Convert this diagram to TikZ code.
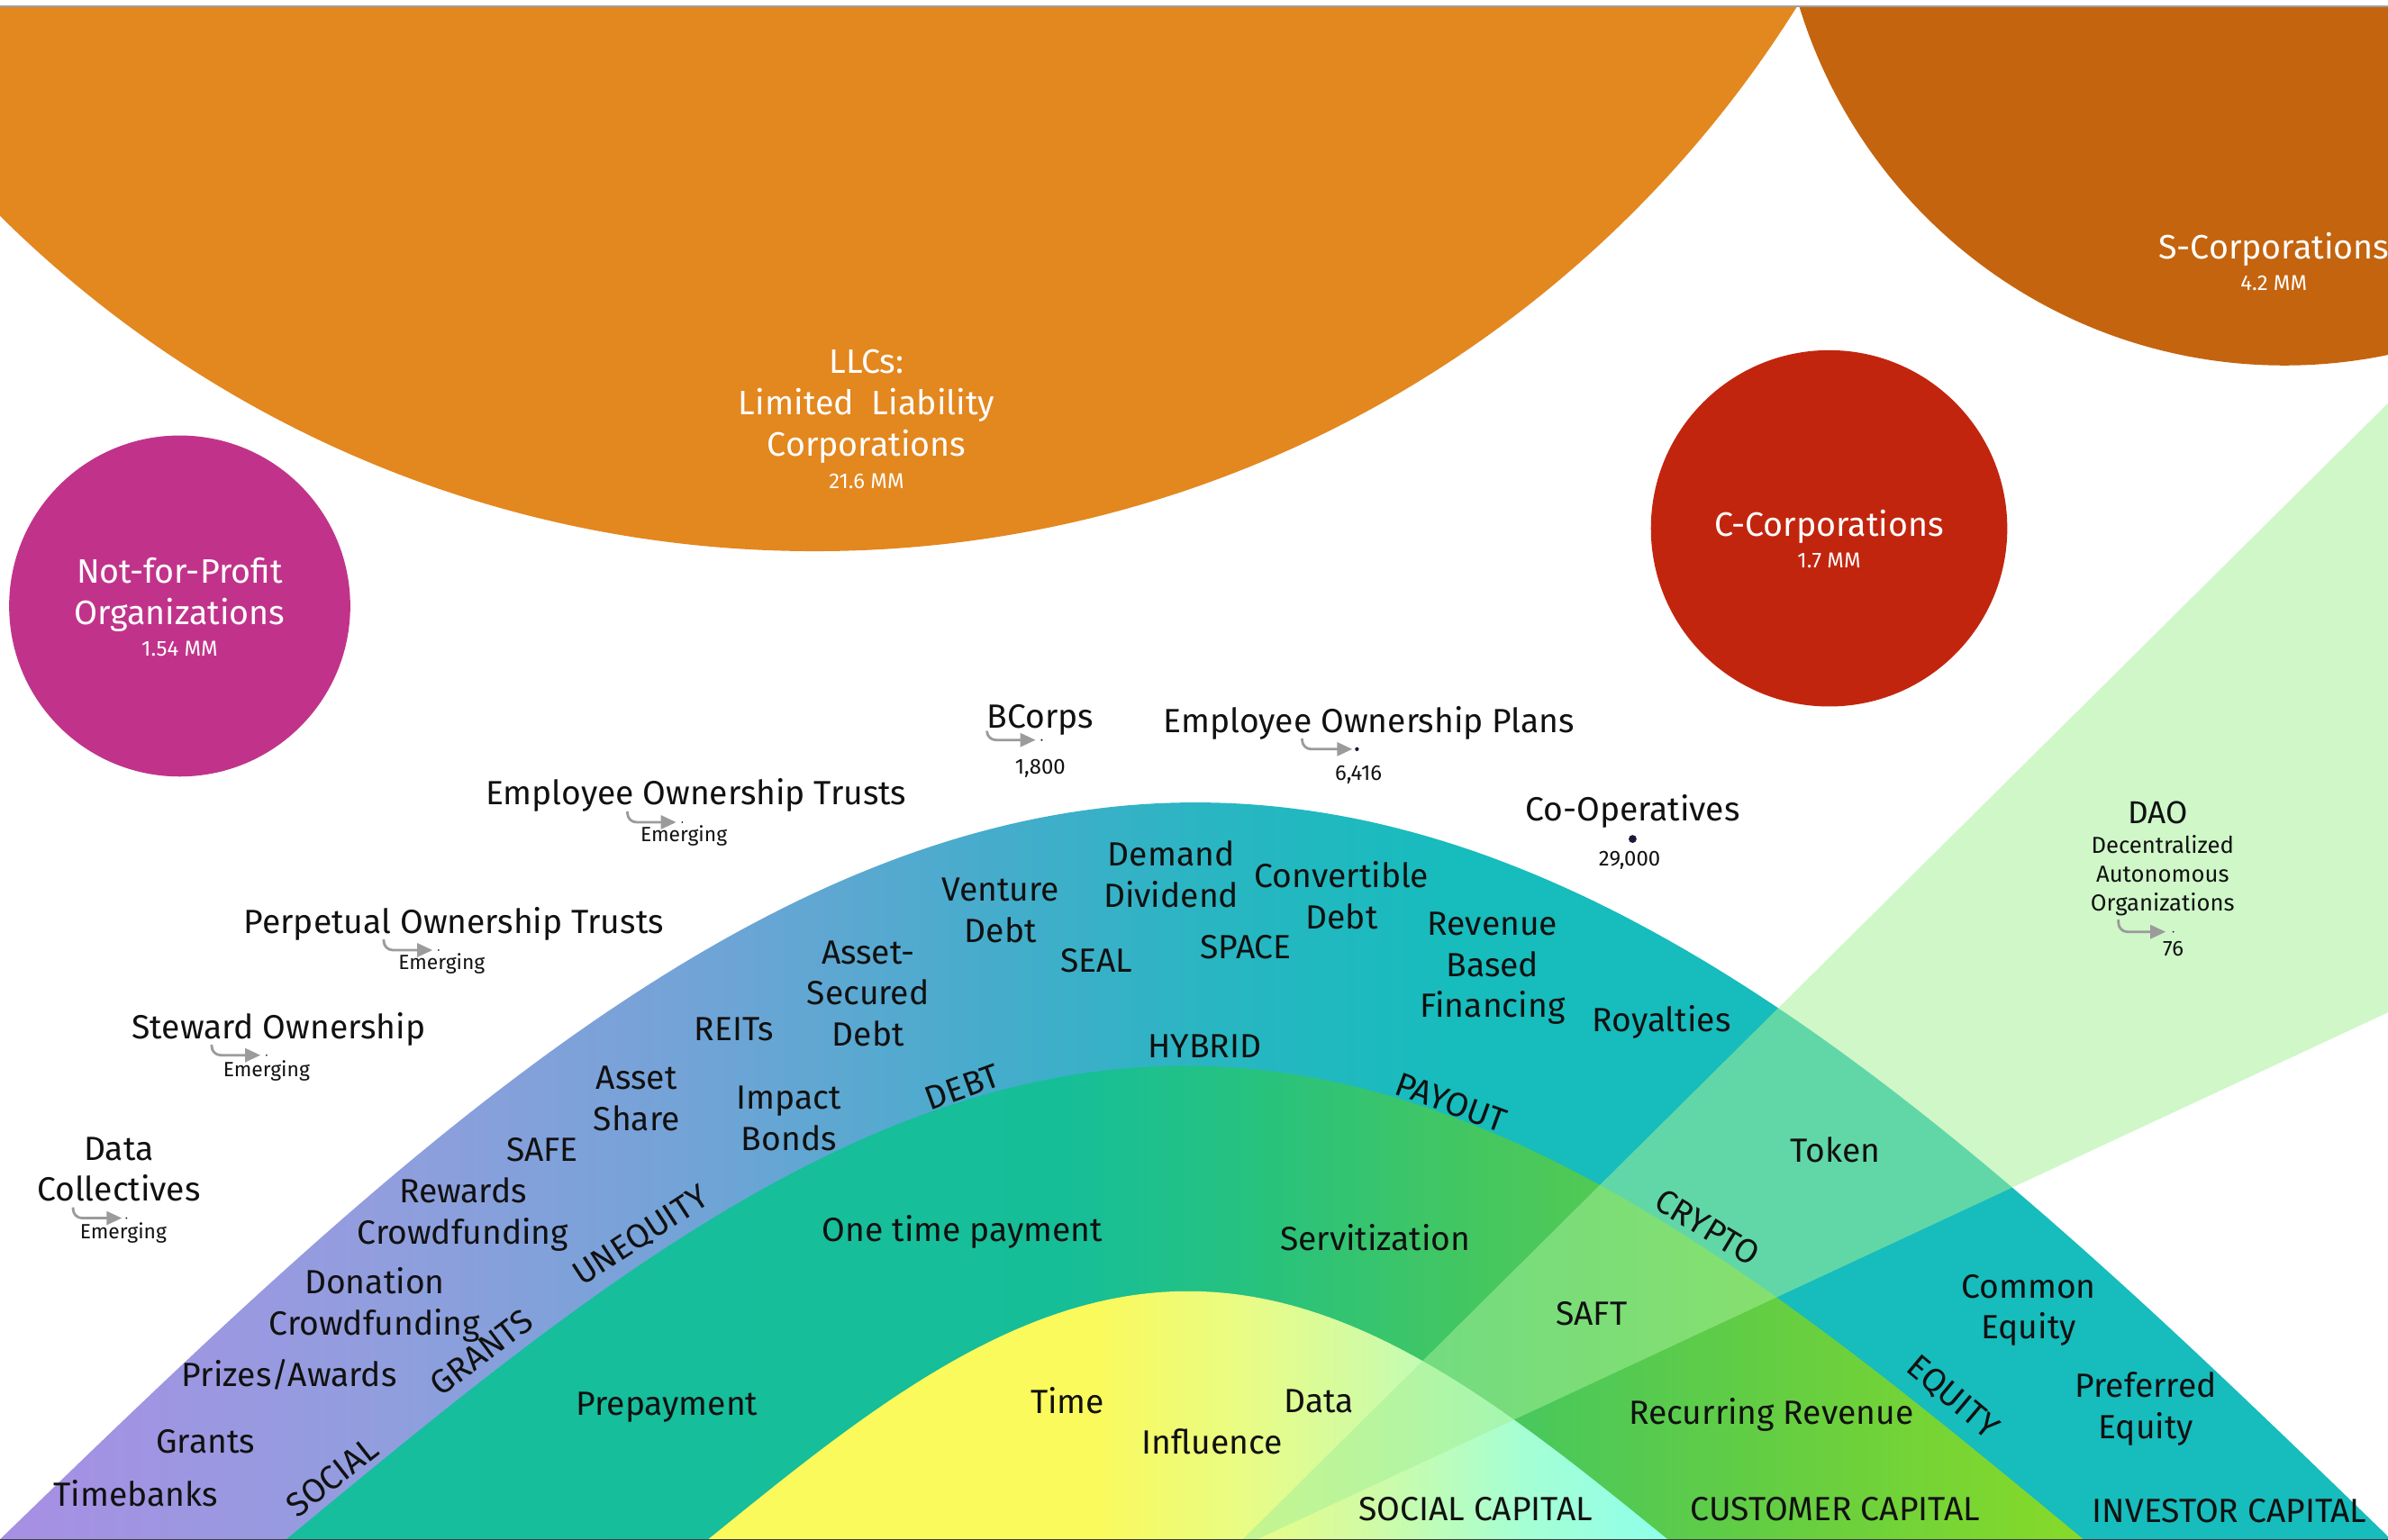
\documentclass[tikz,border=0pt]{standalone}
\usepackage{fontspec}
\setmainfont{Fira Sans}
\usetikzlibrary{arrows.meta,positioning}
\definecolor{ink}{RGB}{17,17,17}
\definecolor{llcC}{RGB}{227,135,31}
\definecolor{scorpC}{RGB}{196,100,15}
\definecolor{ccorpC}{RGB}{194,37,14}
\definecolor{nfpC}{RGB}{193,51,138}
\definecolor{daoC}{RGB}{164,240,151}
\definecolor{arrC}{RGB}{155,155,155}
\definecolor{dotC}{RGB}{25,25,60}
% investor capital
\definecolor{inv0}{RGB}{168,143,228}
\definecolor{inv1}{RGB}{145,158,222}
\definecolor{inv2}{RGB}{115,163,215}
\definecolor{inv3}{RGB}{70,172,204}
\definecolor{inv4}{RGB}{40,182,194}
\definecolor{inv5}{RGB}{23,188,189}
\pgfdeclarehorizontalshading{investor}{100bp}{color(0bp)=(inv0); color(25bp)=(inv0); color(33bp)=(inv1); color(39.3bp)=(inv2); color(45.7bp)=(inv3); color(50.5bp)=(inv4); color(55.3bp)=(inv5); color(100bp)=(inv5)}
% customer capital
\definecolor{cus0}{RGB}{22,190,158}
\definecolor{cus1}{RGB}{22,190,152}
\definecolor{cus2}{RGB}{40,194,125}
\definecolor{cus3}{RGB}{65,198,100}
\definecolor{cus4}{RGB}{98,205,68}
\definecolor{cus5}{RGB}{135,218,40}
\pgfdeclarehorizontalshading{customer}{100bp}{color(0bp)=(cus0); color(25bp)=(cus0); color(46.7bp)=(cus1); color(52.2bp)=(cus2); color(57.3bp)=(cus3); color(65.8bp)=(cus4); color(75bp)=(cus5); color(100bp)=(cus5)}
% social capital
\definecolor{soc0}{RGB}{250,250,92}
\definecolor{soc1}{RGB}{232,252,135}
\definecolor{soc2}{RGB}{208,251,165}
\definecolor{soc3}{RGB}{165,255,212}
\definecolor{soc4}{RGB}{142,255,235}
\pgfdeclarehorizontalshading{social}{100bp}{color(0bp)=(soc0); color(25bp)=(soc0); color(45.2bp)=(soc0); color(53.2bp)=(soc1); color(59.5bp)=(soc2); color(67.5bp)=(soc3); color(75bp)=(soc4); color(100bp)=(soc4)}
\begin{document}
\begin{tikzpicture}[x=0.16907mm,y=-0.16907mm,line join=round,
	lbl/.style={font=\fontsize{10.6}{13}\selectfont,text=ink,align=center,inner sep=0pt},
	wlbl/.style={font=\fontsize{10.7}{13}\selectfont,text=white,align=center,inner sep=0pt},
	wnum/.style={font=\fontsize{6.8}{8}\selectfont,text=white,inner sep=0pt},
	num/.style={font=\fontsize{6.8}{8}\selectfont,text=ink,inner sep=0pt},
	note/.style={font=\fontsize{6.5}{8}\selectfont,text=ink,inner sep=0pt},
	daosub/.style={font=\fontsize{7.3}{9.1}\selectfont,text=ink,align=center,inner sep=0pt},
	emerge/.style={draw=arrC,line width=0.8pt,rounded corners=1mm,-{Triangle[length=1.7mm,width=1.5mm]}},
	spot/.style={fill=dotC}]
	\def\fInv(#1){527+484*(1-cos(90*((#1-785)/785)))}
	\def\fCus(#1){700+311*(1-cos(90*((#1-778)/590)))}
	\def\fSoc(#1){848+163*(1-cos(90*((#1-780)/315)))}
	\useasboundingbox (0,0) rectangle (1568,1011.4);
	\begin{scope}
		\clip (0,4) rectangle (1568,1011.4);
		% entity circles
		\fill[llcC] (535,-398) circle (760);
		\fill[scorpC] (1500,-93) circle (333);
		\fill[ccorpC] (1201,347) circle (117);
		\fill[nfpC] (118,398) circle (112);
		% capital bands
		\shade[shading=investor] plot[domain=0:1570,samples=160] (\x,{\fInv(\x)}) -- cycle;
		\shade[shading=customer] plot[domain=188:1368,samples=140] (\x,{\fCus(\x)}) -- cycle;
		\shade[shading=social] plot[domain=465:1095,samples=100] (\x,{\fSoc(\x)}) -- cycle;
		\fill[daoC,fill opacity=0.53] (807.6,1019.3) -- (1600,233) -- (1600,650) -- cycle;
		% circle labels
		\node[wlbl] (llc) at (569,267) {LLCs:\\Limited~~Liability\\Corporations};
		\node[wnum] (llcN) at (569,316) {21.6 MM};
		\node[wlbl] (scorp) at (1493,164) {S-Corporations};
		\node[wnum] (scorpN) at (1493,186) {4.2 MM};
		\node[wlbl] (ccorp) at (1201,346) {C-Corporations};
		\node[wnum] (ccorpN) at (1201,368) {1.7 MM};
		\node[wlbl] (nfp) at (118,390.5) {Not-for-Profit\\Organizations};
		\node[wnum] (nfpN) at (118,426) {1.54 MM};
		% ownership models
		\node[lbl] (bcorp) at (683,473) {BCorps};
		\node[num] (bcorpN) at (683,505) {1,800};
		\coordinate (bcS) at (648,480); \coordinate (bcT) at (680,486);
		\draw[emerge] (bcS) |- (bcT);
		\fill[spot] (684,486) circle (0.7);
		\node[lbl] (eop) at (899,475) {Employee Ownership Plans};
		\node[num] (eopN) at (892,509) {6,416};
		\coordinate (eopS) at (855,485); \coordinate (eopT) at (888,492);
		\draw[emerge] (eopS) |- (eopT);
		\fill[spot] (891,492) circle (1.3);
		\node[lbl] (eot) at (457,522) {Employee Ownership Trusts};
		\node[note] (eotN) at (449,549) {Emerging};
		\coordinate (eotS) at (412,533); \coordinate (eotT) at (444,540);
		\draw[emerge] (eotS) |- (eotT);
		\fill[spot] (448,540) circle (0.6);
		\node[lbl] (pot) at (298,607) {Perpetual Ownership Trusts};
		\node[note] (potN) at (290,633) {Emerging};
		\coordinate (potS) at (252,617); \coordinate (potT) at (284,624);
		\draw[emerge] (potS) |- (potT);
		\fill[spot] (288,624) circle (0.6);
		\node[lbl] (stw) at (183,676) {Steward Ownership};
		\node[note] (stwN) at (175,703) {Emerging};
		\coordinate (stwS) at (139,686); \coordinate (stwT) at (171,693);
		\draw[emerge] (stwS) |- (stwT);
		\fill[spot] (175,693) circle (0.6);
		\node[lbl] (dcol) at (78,768) {Data\\Collectives};
		\node[note] (dcolN) at (81,810) {Emerging};
		\coordinate (dcolS) at (48,793); \coordinate (dcolT) at (80,800);
		\draw[emerge] (dcolS) |- (dcolT);
		\fill[spot] (83,800) circle (0.6);
		\node[lbl] (coop) at (1072,533) {Co-Operatives};
		\node[num] (coopN) at (1070,565) {29,000};
		\fill[spot] (1072,551) circle (2.6);
		\node[lbl,font=\fontsize{10}{12}\selectfont] (dao) at (1417,534) {DAO};
		\node[daosub] (daoD) at (1420,575) {Decentralized\\Autonomous\\Organizations};
		\node[num] (daoN) at (1427,623) {76};
		\coordinate (daoS) at (1391,604); \coordinate (daoT) at (1422,612);
		\draw[emerge] (daoS) |- (daoT);
		\fill[spot] (1427,612) circle (0.6);
		% investor capital instruments
		\node[lbl] (ven) at (657,598) {Venture\\Debt};
		\node[lbl] (dem) at (769,574) {Demand\\Dividend};
		\node[lbl] (cvd) at (881,588) {Convertible\\Debt};
		\node[lbl] (asd) at (570,652.5) {Asset-\\Secured\\Debt};
		\node[lbl] (seal) at (720,631) {SEAL};
		\node[lbl] (space) at (818,622) {SPACE};
		\node[lbl] (rbf) at (980,636) {Revenue\\Based\\Financing};
		\node[lbl] (roy) at (1091,671) {Royalties};
		\node[lbl] (reit) at (482,676) {REITs};
		\node[lbl] (hyb) at (791,687) {HYBRID};
		\node[lbl] (ash) at (418,721.5) {Asset\\Share};
		\node[lbl] (imp) at (518,734.5) {Impact\\Bonds};
		\node[lbl,rotate=20] (debt) at (632,714) {DEBT};
		\node[lbl,rotate=-20] (pay) at (953,724) {PAYOUT};
		\node[lbl] (safe) at (356,755) {SAFE};
		\node[lbl] (tok) at (1205,755) {Token};
		\node[lbl] (rcf) at (304,797.5) {Rewards\\Crowdfunding};
		\node[lbl,rotate=33] (uneq) at (421,812) {UNEQUITY};
		\node[lbl,rotate=-31] (cry) at (1121,806) {CRYPTO};
		\node[lbl] (dcf) at (246,857) {Donation\\Crowdfunding};
		\node[lbl] (ceq) at (1332,860.5) {Common\\Equity};
		\node[lbl,rotate=37] (grn) at (316,888) {GRANTS};
		\node[lbl] (prz) at (190,903) {Prizes/Awards};
		\node[lbl] (peq) at (1409,925.5) {Preferred\\Equity};
		\node[lbl,rotate=-40] (eqy) at (1282,918) {EQUITY};
		\node[lbl] (gra) at (135,947) {Grants};
		\node[lbl,rotate=38] (soc) at (218,970) {SOCIAL};
		\node[lbl] (tmb) at (89,981) {Timebanks};
		% customer capital instruments
		\node[lbl] (otp) at (632,809) {One time payment};
		\node[lbl] (serv) at (903,813) {Servitization};
		\node[lbl] (saft) at (1045,863) {SAFT};
		\node[lbl] (pre) at (438,924) {Prepayment};
		\node[lbl] (rec) at (1163,929) {Recurring Revenue};
		% social capital instruments
		\node[lbl] (time) at (701,920) {Time};
		\node[lbl] (data) at (866,920) {Data};
		\node[lbl] (infl) at (796,947) {Influence};
		% band names
		\node[lbl] (scap) at (969,991) {SOCIAL CAPITAL};
		\node[lbl] (ccap) at (1205,991) {CUSTOMER CAPITAL};
		\node[lbl] (icap) at (1464,992) {INVESTOR CAPITAL};
	\end{scope}
	\draw[gray!75,line width=0.6pt] (0,4) -- (1568,4);
	\draw[black!75,line width=0.3pt] (0,1011) -- (1568,1011);
\end{tikzpicture}
\end{document}
